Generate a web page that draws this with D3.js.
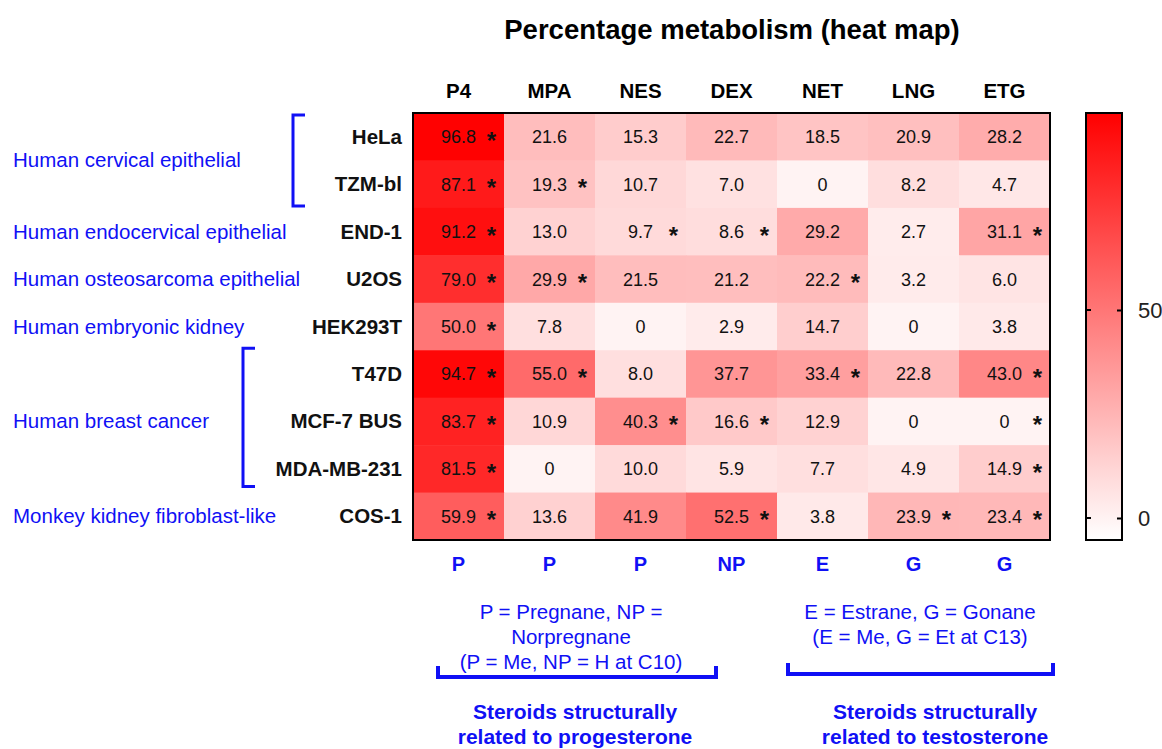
<!DOCTYPE html>
<html>
<head>
<meta charset="utf-8">
<script src="https://cdn.jsdelivr.net/npm/d3@7"></script>
<style>
  html, body { margin: 0; padding: 0; background: #fff; }
  svg { display: block; font-family: "Liberation Sans", Arial, sans-serif; }
</style>
</head>
<body>
<svg id="chart" width="1162" height="749"></svg>
<script>
// Steroids (columns) and cell lines (rows)
const steroids = ["P4", "MPA", "NES", "DEX", "NET", "LNG", "ETG"];
const steroidClass = ["P", "P", "P", "NP", "E", "G", "G"];
const cellLines = ["HeLa", "TZM-bl", "END-1", "U2OS", "HEK293T", "T47D", "MCF-7 BUS", "MDA-MB-231", "COS-1"];

// Percentage metabolism, one array per cell line (order follows `steroids`)
const hela      = [96.8, 21.6, 15.3, 22.7, 18.5, 20.9, 28.2];
const tzmbl     = [87.1, 19.3, 10.7, 7.0, 0, 8.2, 4.7];
const end1      = [91.2, 13.0, 9.7, 8.6, 29.2, 2.7, 31.1];
const u2os      = [79.0, 29.9, 21.5, 21.2, 22.2, 3.2, 6.0];
const hek293t   = [50.0, 7.8, 0, 2.9, 14.7, 0, 3.8];
const t47d      = [94.7, 55.0, 8.0, 37.7, 33.4, 22.8, 43.0];
const mcf7      = [83.7, 10.9, 40.3, 16.6, 12.9, 0, 0];
const mdamb231  = [81.5, 0, 10.0, 5.9, 7.7, 4.9, 14.9];
const cos1      = [59.9, 13.6, 41.9, 52.5, 3.8, 23.9, 23.4];
const values = [hela, tzmbl, end1, u2os, hek293t, t47d, mcf7, mdamb231, cos1];

// Significance flags (1 = marked with an asterisk)
const sigHela     = [1, 0, 0, 0, 0, 0, 0];
const sigTzmbl    = [1, 1, 0, 0, 0, 0, 0];
const sigEnd1     = [1, 0, 1, 1, 0, 0, 1];
const sigU2os     = [1, 1, 0, 0, 1, 0, 0];
const sigHek293t  = [1, 0, 0, 0, 0, 0, 0];
const sigT47d     = [1, 1, 0, 0, 1, 0, 1];
const sigMcf7     = [1, 0, 1, 1, 0, 0, 1];
const sigMdamb231 = [1, 0, 0, 0, 0, 0, 1];
const sigCos1     = [1, 0, 0, 1, 0, 1, 1];
const significant = [sigHela, sigTzmbl, sigEnd1, sigU2os, sigHek293t, sigT47d, sigMcf7, sigMdamb231, sigCos1];

// Tissue groups: label and the cell lines it spans
const groupLabels = ["Human cervical epithelial", "Human endocervical epithelial", "Human osteosarcoma epithelial",
                     "Human embryonic kidney", "Human breast cancer", "Monkey kidney fibroblast-like"];
const groupFirst = ["HeLa", "END-1", "U2OS", "HEK293T", "T47D", "COS-1"];
const groupLast  = ["TZM-bl", "END-1", "U2OS", "HEK293T", "MDA-MB-231", "COS-1"];

const colorTicks = [0, 50];

const BLUE = "#1010f5";
const svg = d3.select("#chart");

// Layout
const hm = { left: 413, right: 1050, top: 113, bottom: 540 };

const x = d3.scaleBand().domain(steroids).range([hm.left, hm.right]);
const y = d3.scaleBand().domain(cellLines).range([hm.top, hm.bottom]);

const color = d3.scaleLinear().domain([-5, 97.4]).range(["#ffffff", "#ff0000"]).clamp(true);

// Title
svg.append("text")
  .attr("x", 732).attr("y", 39)
  .attr("text-anchor", "middle")
  .attr("font-size", 27.5).attr("font-weight", "bold")
  .text("Percentage metabolism (heat map)");

// Cells
const cells = [];
values.forEach((row, i) => row.forEach((v, j) => cells.push({
  line: cellLines[i], steroid: steroids[j], v, sig: significant[i][j]
})));

const g = svg.append("g");
g.selectAll("rect.cell").data(cells).join("rect")
  .attr("class", "cell")
  .attr("x", d => x(d.steroid))
  .attr("y", d => y(d.line))
  .attr("width", x.bandwidth() + 0.5)
  .attr("height", y.bandwidth() + 0.5)
  .attr("fill", d => color(d.v));

const fmt = v => v === 0 ? "0" : d3.format(".1f")(v);

g.selectAll("text.val").data(cells).join("text")
  .attr("class", "val")
  .attr("x", d => x(d.steroid) + x.bandwidth() / 2)
  .attr("y", d => y(d.line) + y.bandwidth() / 2 + 6.5)
  .attr("text-anchor", "middle")
  .attr("font-size", 18).attr("fill", "#111")
  .text(d => fmt(d.v));

g.selectAll("text.star").data(cells.filter(d => d.sig)).join("text")
  .attr("class", "star")
  .attr("x", d => x(d.steroid) + x.bandwidth() / 2 + 33)
  .attr("y", d => y(d.line) + y.bandwidth() / 2 + 12)
  .attr("text-anchor", "middle")
  .attr("font-size", 24).attr("font-weight", "bold").attr("fill", "#111")
  .text("*");

// Heat map frame
svg.append("rect")
  .attr("x", hm.left).attr("y", hm.top)
  .attr("width", hm.right - hm.left).attr("height", hm.bottom - hm.top)
  .attr("fill", "none").attr("stroke", "#000").attr("stroke-width", 2);

// Column headers
svg.append("g").selectAll("text").data(steroids).join("text")
  .attr("x", d => x(d) + x.bandwidth() / 2)
  .attr("y", 98)
  .attr("text-anchor", "middle")
  .attr("font-size", 20.5).attr("font-weight", "bold")
  .text(d => d);

// Steroid class labels
svg.append("g").selectAll("text").data(steroids).join("text")
  .attr("x", d => x(d) + x.bandwidth() / 2)
  .attr("y", 571)
  .attr("text-anchor", "middle")
  .attr("font-size", 20).attr("font-weight", "bold").attr("fill", BLUE)
  .text((d, i) => steroidClass[i]);

// Row labels
svg.append("g").selectAll("text").data(cellLines).join("text")
  .attr("x", 402)
  .attr("y", d => y(d) + y.bandwidth() / 2 + 7)
  .attr("text-anchor", "end")
  .attr("font-size", 20.5).attr("font-weight", "bold").attr("fill", "#111")
  .text(d => d);

// Tissue group labels
const groups = groupLabels.map((label, i) => ({
  label,
  y0: y(groupFirst[i]),
  y1: y(groupLast[i]) + y.bandwidth(),
  multi: groupFirst[i] !== groupLast[i]
}));
svg.append("g").selectAll("text").data(groups).join("text")
  .attr("x", 13)
  .attr("y", d => (d.y0 + d.y1) / 2 + 7)
  .attr("font-size", 20.5).attr("fill", BLUE)
  .text(d => d.label);

// Brackets joining multi-line groups
const bracketX = { "Human cervical epithelial": 293, "Human breast cancer": 243 };
svg.append("g").selectAll("path").data(groups.filter(d => d.multi)).join("path")
  .attr("d", d => {
    const bx = bracketX[d.label];
    const yTop = d.label === "Human cervical epithelial" ? d.y0 + 2 : d.y0 - 2;
    const yBot = d.label === "Human cervical epithelial" ? d.y1 - 2 : d.y1 - 6;
    return `M${bx + 12},${yTop}H${bx}V${yBot}H${bx + 12}`;
  })
  .attr("fill", "none").attr("stroke", BLUE).attr("stroke-width", 3);

// Colour bar
const cb = { x: 1086, w: 36, top: 113, bottom: 540 };
const cbScale = d3.scaleLinear().domain([0, 50]).range([518, 310]);
const defs = svg.append("defs");
const grad = defs.append("linearGradient")
  .attr("id", "cbGrad").attr("x1", 0).attr("y1", 1).attr("x2", 0).attr("y2", 0);
const vBottom = cbScale.invert(cb.bottom), vTop = cbScale.invert(cb.top);
d3.range(0, 11).forEach(k => {
  const t = k / 10;
  grad.append("stop").attr("offset", t).attr("stop-color", color(vBottom + t * (vTop - vBottom)));
});
svg.append("rect")
  .attr("x", cb.x).attr("y", cb.top)
  .attr("width", cb.w).attr("height", cb.bottom - cb.top)
  .attr("fill", "url(#cbGrad)").attr("stroke", "#000").attr("stroke-width", 2);

const axis = svg.append("g").attr("transform", `translate(${cb.x + cb.w},0)`)
  .call(d3.axisRight(cbScale).tickValues(colorTicks).tickSize(5).tickPadding(11));
axis.select(".domain").remove();
axis.selectAll(".tick line").attr("x1", -5).attr("x2", 1).attr("stroke", "#000").attr("stroke-width", 2);
axis.selectAll(".tick text").attr("font-size", 22).attr("fill", "#222")
  .attr("font-family", "'Liberation Sans', Arial, sans-serif");
// matching ticks on the left edge of the bar
svg.append("g").selectAll("line").data(colorTicks).join("line")
  .attr("x1", cb.x - 1).attr("x2", cb.x + 5)
  .attr("y1", d => cbScale(d)).attr("y2", d => cbScale(d))
  .attr("stroke", "#000").attr("stroke-width", 2);

// Steroid family notes
const leftNote = ["P = Pregnane, NP =", "Norpregnane", "(P = Me, NP = H at C10)"];
const rightNote = ["E = Estrane, G = Gonane", "(E = Me, G = Et at C13)"];
svg.append("g").selectAll("text").data(leftNote).join("text")
  .attr("x", 571).attr("y", (d, i) => 619 + i * 25)
  .attr("text-anchor", "middle").attr("font-size", 20.5).attr("fill", BLUE)
  .text(d => d);
svg.append("g").selectAll("text").data(rightNote).join("text")
  .attr("x", 920).attr("y", (d, i) => 619 + i * 25)
  .attr("text-anchor", "middle").attr("font-size", 20.5).attr("fill", BLUE)
  .text(d => d);

// Bottom brackets
const spans = [
  { x0: 438, x1: 716, yb: 677, label: ["Steroids structurally", "related to progesterone"], cx: 575 },
  { x0: 788, x1: 1053, yb: 674, label: ["Steroids structurally", "related to testosterone"], cx: 935 }
];
svg.append("g").selectAll("path").data(spans).join("path")
  .attr("d", d => `M${d.x0},${d.yb - 11}V${d.yb}H${d.x1}V${d.yb - 11}`)
  .attr("fill", "none").attr("stroke", BLUE).attr("stroke-width", 4);

spans.forEach(s => {
  svg.append("g").selectAll("text").data(s.label).join("text")
    .attr("x", s.cx).attr("y", (d, i) => 719 + i * 24.5)
    .attr("text-anchor", "middle")
    .attr("font-size", 21).attr("font-weight", "bold").attr("fill", BLUE)
    .text(d => d);
});
</script>
</body>
</html>
